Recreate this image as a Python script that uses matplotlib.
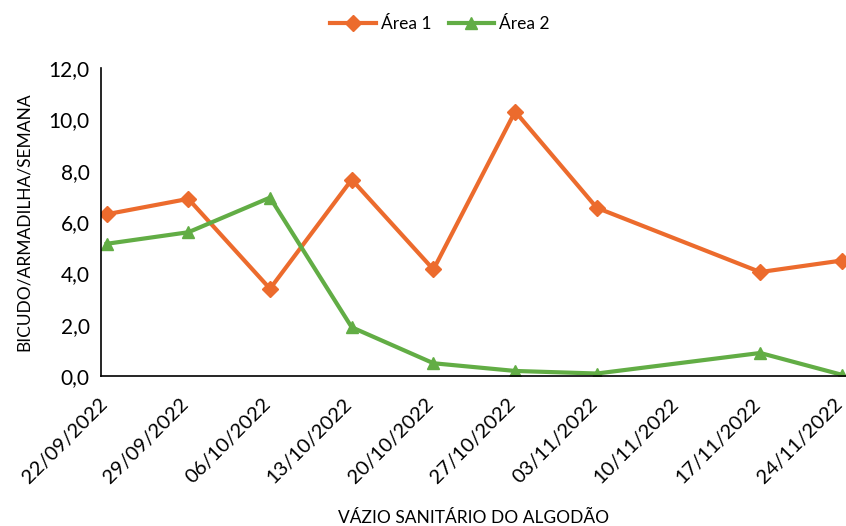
import numpy as np
import matplotlib.pyplot as plt
import matplotlib.transforms as mtransforms

datas = ['22/09/2022', '29/09/2022', '06/10/2022', '13/10/2022', '20/10/2022',
         '27/10/2022', '03/11/2022', '10/11/2022', '17/11/2022', '24/11/2022']
area1 = [6.3, 6.9, 3.4, 7.65, 4.15, 10.3, 6.55, np.nan, 4.05, 4.5]
area2 = [5.15, 5.6, 6.95, 1.9, 0.5, 0.2, 0.1, np.nan, 0.9, 0.05]

plt.rcParams['font.family'] = ['Lato', 'DejaVu Sans']

fig = plt.figure(figsize=(8.46, 5.26), dpi=100)
ax = fig.add_axes([0.119, 0.285, 0.881, 0.586])

x = np.arange(len(datas))
a1 = np.array(area1)
a2 = np.array(area2)
m1 = ~np.isnan(a1)
m2 = ~np.isnan(a2)

# sem coleta em 10/11: a linha liga os pontos vizinhos
ax.plot(x[m1], a1[m1], color='#EC6B2D', lw=3, marker='D', ms=8, label='Área 1')
ax.plot(x[m2], a2[m2], color='#62AD45', lw=3, marker='^', ms=9, label='Área 2')

ax.set_xlim(-0.073, 9.05)
ax.set_ylim(0, 12)
ax.set_yticks(np.arange(0, 13, 2))
ax.set_yticklabels([f'{v:.1f}'.replace('.', ',') for v in np.arange(0, 13, 2)], fontsize=15)
ax.set_xticks(x)
ax.set_xticklabels(datas, rotation=45, ha='right', rotation_mode='anchor', fontsize=14.5)
ax.tick_params(length=0, pad=8)

# desloca as datas para que terminem logo abaixo de cada ponto
desloc = mtransforms.ScaledTranslation(-6 / 72, -6 / 72, fig.dpi_scale_trans)
for lbl in ax.get_xticklabels():
    lbl.set_transform(lbl.get_transform() + desloc)

for s in ['top', 'right']:
    ax.spines[s].set_visible(False)
for s in ['left', 'bottom']:
    ax.spines[s].set_color('black')
    ax.spines[s].set_linewidth(1.2)

ax.set_ylabel('BICUDO/ARMADILHA/SEMANA', fontsize=12.5, labelpad=12)
fig.text(0.56, 0.005, 'VÁZIO SANITÁRIO DO ALGODÃO', ha='center', fontsize=12.5)

fig.legend(loc='upper center', bbox_to_anchor=(0.52, 1.0), ncol=2, frameon=False,
           fontsize=12.5, handlelength=2.6, columnspacing=1.0, handletextpad=0.3)

fig.savefig('out.png', dpi=100)
